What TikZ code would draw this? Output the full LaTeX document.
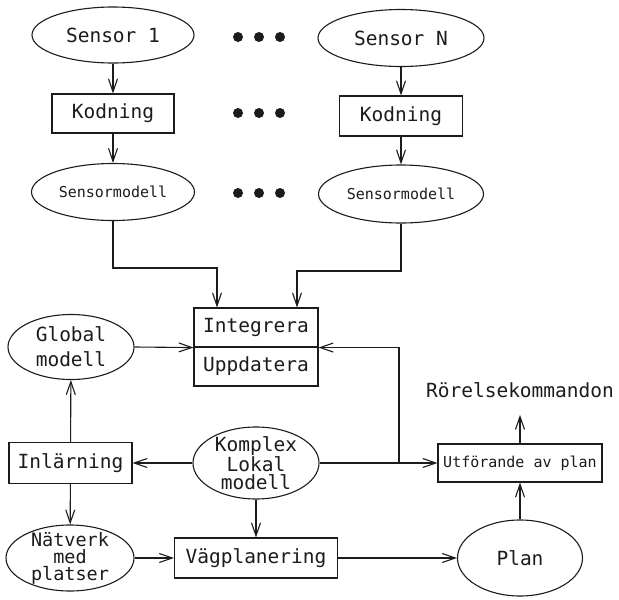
\documentclass[tikz,border=0pt]{standalone}
\usepackage{fontspec}
\newfontfamily\plotfont{DejaVu Sans Mono}
\usetikzlibrary{arrows.meta,shapes.geometric}
\definecolor{ink}{HTML}{1C1C1C}
\begin{document}
\begin{tikzpicture}[x=1pt,y=-1pt,line width=1.1pt,draw=ink,text=ink,
  big/.style={font=\plotfont\fontsize{19.5}{23}\selectfont},
  small/.style={font=\plotfont\fontsize{15}{18}\selectfont},
  ell/.style={draw,ellipse,inner sep=0pt},
  boxx/.style={draw,rectangle,inner sep=0pt},
  arr/.style={-{Straight Barb[length=13pt,width=9pt]}},
  dot/.style={fill=ink,draw=none}]
\useasboundingbox[fill=white] (0,0) rectangle (619,600);

% sensor columns
\node[ell,big,minimum width=162pt,minimum height=56pt] (s1) at (113,35) {Sensor 1};
\node[ell,big,minimum width=166pt,minimum height=57pt] (sn) at (401,38) {Sensor N};
\node[boxx,big,minimum width=122pt,minimum height=39pt] (k1) at (113,113.5) {Kodning};
\node[boxx,big,minimum width=123pt,minimum height=40pt] (kn) at (401,116) {Kodning};
\node[ell,small,minimum width=163pt,minimum height=57pt] (m1) at (113,192) {Sensormodell};
\node[ell,small,minimum width=165pt,minimum height=58pt] (mn) at (401,194) {Sensormodell};

% dots
\foreach \yy in {37,113,193}{
  \foreach \xx in {238,259,280}{
    \fill[dot] (\xx,\yy) circle (5pt);
  }
}

% integration box
\node[boxx,big,minimum width=124pt,minimum height=39pt] (integ) at (256,327.5) {Integrera};
\node[boxx,big,minimum width=124pt,minimum height=39pt] (upd) at (256,366.5) {Uppdatera};

% lower part
\node[ell,big,align=center,font=\plotfont\fontsize{19.5}{25}\selectfont,minimum width=126pt,minimum height=65pt] (glob) at (71,347) {Global\\modell};
\node[boxx,big,minimum width=123pt,minimum height=41pt] (inl) at (70.5,463) {Inlärning};
\node[ell,align=center,font=\plotfont\fontsize{19.5}{18.5}\selectfont,minimum width=126pt,minimum height=72pt,inner ysep=-4pt] (kom) at (256,463) {Komplex\\Lokal\\modell};
\node[ell,align=center,font=\plotfont\fontsize{18.5}{17}\selectfont,minimum width=128pt,minimum height=66pt,inner ysep=-8pt] (nat) at (70,558) {Nätverk\\med\\platser};
\node[boxx,big,minimum width=163pt,minimum height=40pt] (vag) at (256,558) {Vägplanering};
\node[ell,big,minimum width=125pt,minimum height=76pt] (plan) at (520,558) {Plan};
\node[boxx,small,minimum width=164pt,minimum height=38pt] (utf) at (520,463) {Utförande av plan};
\node[big,inner xsep=0pt,inner ysep=17pt,anchor=base] (rk) at (520,397) {Rörelsekommandon};

% connectors
\draw[arr] (s1) -- (k1);
\draw[arr] (k1) -- (m1);
\draw[arr] (sn) -- (kn);
\draw[arr] (kn) -- (mn);
\coordinate (c1) at (217,268);
\coordinate (cn) at (297,271);
\draw[arr] (m1.south) |- (c1) -- (c1 |- integ.north);
\draw[arr] (mn.south) |- (cn) -- (cn |- integ.north);
\draw[arr] (glob.east) -- (integ.south west);
\draw[arr] (inl) -- (glob);
\draw[arr] (kom) -- (inl);
\draw[arr] (inl) -- (nat);
\draw[arr] (nat) -- (vag);
\draw[arr] (kom) -- (vag);
\draw[arr] (vag) -- (plan);
\draw[arr] (plan) -- (utf);
\draw[arr] (kom) -- (utf);
\coordinate (j) at (399,463);
\draw[arr] (j) |- (integ.south east);
\draw[arr] (utf) -- (rk.south);
\end{tikzpicture}
\end{document}
